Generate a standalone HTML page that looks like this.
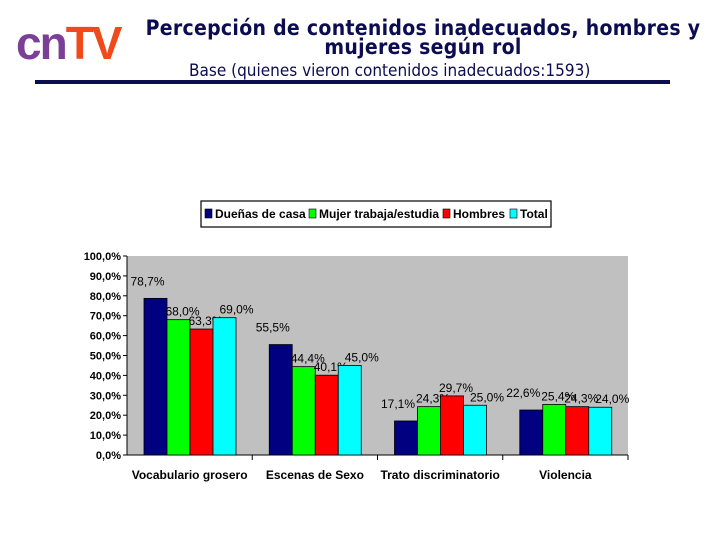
<!DOCTYPE html>
<html><head><meta charset="utf-8"><style>
body{margin:0;background:#fff;width:720px;height:540px;overflow:hidden;font-family:"Liberation Sans",sans-serif;position:relative}
.abs{position:absolute}
</style></head><body>
<div class="abs" style="left:16px;top:18px;font:bold 46px 'Liberation Sans',sans-serif;letter-spacing:-2px;line-height:50px"><span style="color:#7b3f98">cn</span><span style="color:#f04a1a">TV</span></div>
<div class="abs" style="left:140px;width:566px;top:19px;text-align:center;font:bold 21px 'DejaVu Sans Condensed','DejaVu Sans',sans-serif;letter-spacing:0.3px;color:#0c0c50;line-height:19px">Percepción de contenidos inadecuados, hombres y<br>mujeres según rol</div>
<div class="abs" style="left:189px;top:61px;font:17px 'DejaVu Sans Condensed','DejaVu Sans',sans-serif;color:#0c0c50">Base (quienes vieron contenidos inadecuados:1593)</div>
<div class="abs" style="left:35px;top:80px;width:635px;height:4px;background:#0c0c50"></div>
<svg class="abs" style="left:0;top:0" width="720" height="540" id="chart"></svg>
<script>
const categories=["Vocabulario grosero","Escenas de Sexo","Trato discriminatorio","Violencia"];
const seriesNames=["Dueñas de casa","Mujer trabaja/estudia","Hombres","Total"];
const duenas=[78.7,55.5,17.1,22.6];
const mujer=[68.0,44.4,24.3,25.4];
const hombres=[63.3,40.1,29.7,24.3];
const total=[69.0,45.0,25.0,24.0];
const ticks=[0,10,20,30,40,50,60,70,80,90,100];
const series=[duenas,mujer,hombres,total];
const colors=["#000080","#00ff00","#ff0000","#00ffff"];
const svg=document.getElementById('chart');
const NS="http://www.w3.org/2000/svg";
const L=127,R=628,T=256,B=455;
const y=v=>B-(v/100)*(B-T);
const cw=(R-L)/categories.length;
const bw=23;
const x=(c,s)=>L+c*cw+17+s*bw;
function mk(t,a){const e=document.createElementNS(NS,t);for(const k in a)e.setAttribute(k,a[k]);svg.appendChild(e);return e;}
const pa=mk('rect',{x:L,y:T,width:R-L,height:B-T,fill:'#c0c0c0'});


const fmt=v=>v.toFixed(1).replace('.',',')+'%';
ticks.forEach(t=>{
  const tx=mk('text',{x:L-6,y:y(t)+4,'text-anchor':'end','font-size':'11','font-weight':'bold','font-family':'Liberation Sans,sans-serif',fill:'#000'});
  tx.textContent=t.toFixed(1).replace('.',',')+'%';
  
  
  mk('line',{x1:L-4,x2:L,y1:y(t),y2:y(t),stroke:'#000'});
});
const la=mk('line',{x1:L,x2:L,y1:T,y2:B,stroke:'#000'});


const lb=mk('line',{x1:L,x2:R,y1:B,y2:B,stroke:'#000'});


categories.forEach((c,ci)=>{
  mk('line',{x1:L+(ci+1)*cw,x2:L+(ci+1)*cw,y1:B,y2:B+5,stroke:'#000'});
  const t=mk('text',{x:L+ci*cw+cw/2,y:B+24,'text-anchor':'middle','font-size':'12','font-weight':'bold','font-family':'Liberation Sans,sans-serif'});
  t.textContent=c;
  
  
  series.forEach((s,si)=>{
    const r=mk('rect',{x:x(ci,si),y:y(s[ci]),width:bw,height:B-y(s[ci]),fill:colors[si],stroke:'#000','stroke-width':'0.8'});
    
    
    const lx=x(ci,si)+bw/2+(si===0?-8:si===3?12:4);
    const l=mk('text',{x:lx,y:y(s[ci])-(si===0?13:4),'text-anchor':'middle','font-size':'12','font-family':'Liberation Sans,sans-serif',fill:'#000'});
    l.textContent=fmt(s[ci]);
    
    
  });
});
const lg=mk('rect',{x:201,y:201,width:350,height:26,fill:'#fff',stroke:'#000','stroke-width':'1.2'});


const lx0=[205,309,443,510];
seriesNames.forEach((n,i)=>{
  mk('rect',{x:lx0[i],y:209,width:7,height:9,fill:colors[i],stroke:'#000','stroke-width':'0.6'});
  const t=mk('text',{x:lx0[i]+10,y:218,'font-size':'12','font-weight':'bold','font-family':'Liberation Sans,sans-serif'});
  t.textContent=n;
  
  
});
</script>
</body></html>
